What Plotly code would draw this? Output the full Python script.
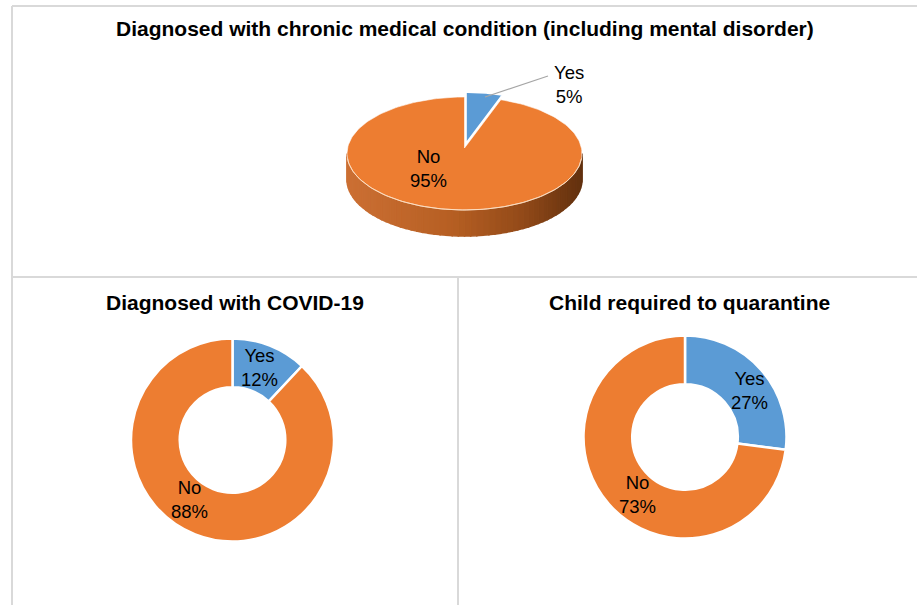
import numpy as np
import plotly.graph_objects as go

W, H = 917, 605

# ---- data ----
titles = [
    "Diagnosed with chronic medical condition (including mental disorder)",
    "Diagnosed with COVID-19",
    "Child required to quarantine",
]
categories = ["Yes", "No"]
chronic_vals = [5, 95]
covid_vals = [12, 88]
quarantine_vals = [27, 73]

BLUE = "#5B9BD5"
ORANGE = "#ED7D31"
FONT = "Liberation Sans, Arial, sans-serif"

fig = go.Figure()

# ---- 3D-looking pie (top panel), drawn on a pixel axis ----
cx, cy, rx, ry, depth = 464.5, 153.5, 117.5, 56.5, 26
apex = (464.5, 148.0)
explode = 10.0


def pt(theta_deg, ox=0.0, oy=0.0, dz=0.0):
    t = np.radians(theta_deg)
    return cx + ox + rx * np.sin(t), cy + oy - ry * np.cos(t) + dz


tot = sum(chronic_vals)
yes_end = chronic_vals[0] / tot * 360.0


def grad(t):
    stops = [(0.0, (204, 112, 52)), (0.45, (182, 95, 35)), (0.75, (146, 74, 25)), (1.0, (98, 49, 15))]
    for (a, ca), (b, cb) in zip(stops[:-1], stops[1:]):
        if t <= b:
            f = (t - a) / (b - a)
            c = [int(ca[i] + f * (cb[i] - ca[i])) for i in range(3)]
            return "rgb(%d,%d,%d)" % tuple(c)
    return "rgb(%d,%d,%d)" % stops[-1][1]


# side strips of the "No" slice (front half)
thetas = np.linspace(90, 270, 61)
for a, b in zip(thetas[:-1], thetas[1:]):
    x1, y1 = pt(a)
    x2, y2 = pt(b)
    xs = [x1, x2, x2, x1, x1]
    ys = [y1, y2, y2 + depth, y1 + depth, y1]
    t = ((x1 + x2) / 2 - (cx - rx)) / (2 * rx)
    col = grad(t)
    fig.add_trace(go.Scatter(x=xs, y=ys, mode="lines", fill="toself", fillcolor=col,
                             line=dict(color=col, width=1.5), hoverinfo="skip", showlegend=False))

# top face: No slice
th = np.linspace(yes_end, 360, 200)
nx = [apex[0]] + [pt(t)[0] for t in th] + [apex[0]]
ny = [apex[1]] + [pt(t)[1] for t in th] + [apex[1]]
fig.add_trace(go.Scatter(x=nx, y=ny, mode="lines", fill="toself", fillcolor=ORANGE,
                         line=dict(color="rgba(255,255,255,0.6)", width=1), hoverinfo="skip", showlegend=False))

# highlight on front edge
th2 = np.linspace(95, 265, 100)
fig.add_trace(go.Scatter(x=[pt(t)[0] for t in th2], y=[pt(t)[1] for t in th2], mode="lines",
                         line=dict(color="rgba(255,225,195,0.9)", width=1), hoverinfo="skip", showlegend=False))

# Yes slice (exploded)
mid = np.radians(yes_end / 2)
ox, oy = explode * np.sin(mid), -explode * np.cos(mid) * ry / rx
th = np.linspace(0, yes_end, 30)
yx = [apex[0] + ox] + [pt(t, ox, oy)[0] for t in th] + [apex[0] + ox]
yy = [apex[1] + oy] + [pt(t, ox, oy)[1] for t in th] + [apex[1] + oy]
fig.add_trace(go.Scatter(x=yx, y=yy, mode="lines", fill="toself", fillcolor=BLUE,
                         line=dict(color="white", width=1.5), hoverinfo="skip", showlegend=False))

# leader line for Yes label
fig.add_trace(go.Scatter(x=[485, 548], y=[97, 76], mode="lines",
                         line=dict(color="#A6A6A6", width=1.3), hoverinfo="skip", showlegend=False))

# ---- donuts ----
def dom(cxp, cyp, r):
    return dict(x=[(cxp - r) / W, (cxp + r) / W], y=[1 - (cyp + r) / H, 1 - (cyp - r) / H])


for vals, (pcx, pcy) in [(covid_vals, (232.5, 440)), (quarantine_vals, (685, 437))]:
    fig.add_trace(go.Pie(labels=categories, values=vals, hole=0.52, sort=False,
                         direction="clockwise", rotation=0, textinfo="none",
                         marker=dict(colors=[BLUE, ORANGE], line=dict(color="white", width=2.5)),
                         domain=dom(pcx, pcy, 101.5), showlegend=False, hoverinfo="label+percent"))

# ---- text ----
ann = []
def label(x, y, cat, v):
    ann.append(dict(x=x, y=y, xref="x", yref="y", text=f"{cat}<br>{v}%", showarrow=False,
                    font=dict(family=FONT, size=18.5, color="black"), align="center"))

label(569, 84, categories[0], chronic_vals[0])
label(428, 168, categories[1], chronic_vals[1])
label(259, 367, categories[0], covid_vals[0])
label(189, 499, categories[1], covid_vals[1])
label(749, 390, categories[0], quarantine_vals[0])
label(637, 494, categories[1], quarantine_vals[1])

for t, x, y in [(titles[0], 465, 28), (titles[1], 235, 302), (titles[2], 689, 302)]:
    ann.append(dict(x=x, y=y, xref="x", yref="y", text=f"<b>{t}</b>", showarrow=False,
                    font=dict(family=FONT, size=21, color="black")))

shapes = []
for x0, y0, x1, y1 in [(12, 6, 917, 6), (12, 6, 12, 605), (12, 277, 917, 277), (458, 277, 458, 605)]:
    shapes.append(dict(type="line", xref="x", yref="y", x0=x0, y0=y0, x1=x1, y1=y1,
                       line=dict(color="#D9D9D9", width=2), layer="below"))

fig.update_layout(
    width=W, height=H, margin=dict(l=0, r=0, t=0, b=0),
    paper_bgcolor="white", plot_bgcolor="white",
    xaxis=dict(range=[0, W], visible=False, domain=[0, 1], fixedrange=True),
    yaxis=dict(range=[H, 0], visible=False, domain=[0, 1], fixedrange=True),
    annotations=ann, shapes=shapes, showlegend=False,
)

fig.write_html("out.html", config={"displayModeBar": False},
               post_script="document.body.style.margin='0';")
